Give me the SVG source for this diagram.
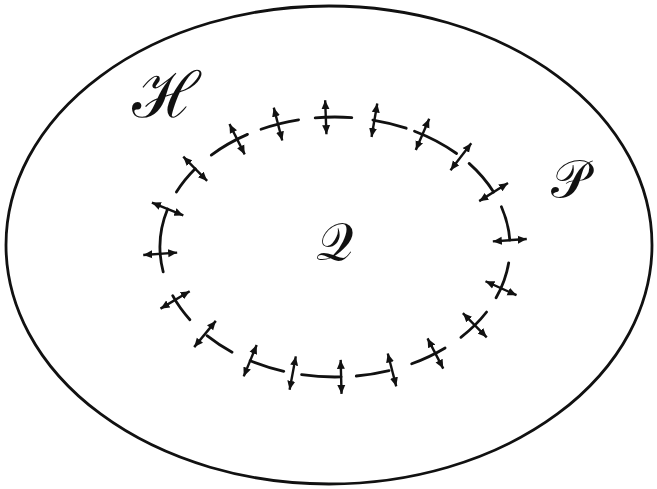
<svg xmlns="http://www.w3.org/2000/svg" xmlns:xlink="http://www.w3.org/1999/xlink" width="657" height="489" viewBox="0 0 657 489">
<style>
.ln{fill:none;stroke:#111;stroke-width:2.8;stroke-linecap:round}
.ar{stroke:#111;stroke-width:2.4;marker-start:url(#ah);marker-end:url(#ah)}
.lbl{font-family:"DejaVu Serif","Noto Sans",serif;fill:#111;text-anchor:middle}
</style>
<defs>
<marker id="ah" markerUnits="userSpaceOnUse" markerWidth="10" markerHeight="9" refX="9" refY="4.5" orient="auto-start-reverse">
<path d="M0,0.5 L9,4.5 L0,8.5 z" fill="#111"/>
</marker>
<line id="arr" class="ar" x1="-17" y1="0" x2="17" y2="0"/>
</defs>
<rect width="657" height="489" fill="#fff"/>
<g id="outer">
<ellipse class="ln" cx="329" cy="245" rx="323" ry="239"/>
</g>
<g id="dashes">
<path class="ln" d="M501.4,206.8 A175,130 0 0 1 509.8,240.2"/>
<path class="ln" d="M508.7,262.8 A175,130 0 0 1 496.1,297.8"/>
<path class="ln" d="M486.6,312.0 A175,130 0 0 1 460.9,337.3"/>
<path class="ln" d="M445.1,348.0 A175,130 0 0 1 411.7,363.8"/>
<path class="ln" d="M389.1,370.6 A175,130 0 0 1 356.3,376.0"/>
<path class="ln" d="M341.1,376.9 A175,130 0 0 1 301.6,374.6"/>
<path class="ln" d="M283.8,371.3 A175,130 0 0 1 250.2,360.7"/>
<path class="ln" d="M232.1,352.2 A175,130 0 0 1 207.0,335.7"/>
<path class="ln" d="M189.9,319.7 A175,130 0 0 1 172.7,295.7"/>
<path class="ln" d="M163.2,271.8 A175,130 0 0 1 167.6,209.0"/>
<path class="ln" d="M176.4,192.1 A175,130 0 0 1 195.2,168.8"/>
<path class="ln" d="M211.3,155.1 A175,130 0 0 1 247.5,134.4"/>
<path class="ln" d="M261.0,129.2 A175,130 0 0 1 298.6,119.8"/>
<path class="ln" d="M315.2,117.8 A175,130 0 0 1 351.8,117.6"/>
<path class="ln" d="M372.9,120.1 A175,130 0 0 1 406.2,128.2"/>
<path class="ln" d="M414.5,131.2 A175,130 0 0 1 456.6,153.5"/>
<path class="ln" d="M469.1,163.4 A175,130 0 0 1 493.6,192.1"/>
</g>
<g id="arrows">
<use xlink:href="#arr" transform="translate(160.2,253.8) rotate(176)"/>
<use xlink:href="#arr" transform="translate(167.6,209.0) rotate(202.4)"/>
<use xlink:href="#arr" transform="translate(195.2,168.8) rotate(225.4)"/>
<use xlink:href="#arr" transform="translate(237.1,139.2) rotate(243.4)"/>
<use xlink:href="#arr" transform="translate(278.0,124.1) rotate(255.6)"/>
<use xlink:href="#arr" transform="translate(325.8,117.2) rotate(267.8)"/>
<use xlink:href="#arr" transform="translate(374.4,120.3) rotate(279.7)"/>
<use xlink:href="#arr" transform="translate(422.5,134.4) rotate(293.2)"/>
<use xlink:href="#arr" transform="translate(460.9,156.7) rotate(307.6)"/>
<use xlink:href="#arr" transform="translate(493.6,192.1) rotate(-32.1)"/>
<use xlink:href="#arr" transform="translate(509.8,240.2) rotate(-4)"/>
<use xlink:href="#arr" transform="translate(501.0,288.2) rotate(24.2)"/>
<use xlink:href="#arr" transform="translate(474.8,325.2) rotate(45.4)"/>
<use xlink:href="#arr" transform="translate(435.4,353.5) rotate(62.5)"/>
<use xlink:href="#arr" transform="translate(392.0,369.9) rotate(75.6)"/>
<use xlink:href="#arr" transform="translate(341.1,376.9) rotate(88.5)"/>
<use xlink:href="#arr" transform="translate(292.7,373.1) rotate(100.5)"/>
<use xlink:href="#arr" transform="translate(250.2,360.7) rotate(112.4)"/>
<use xlink:href="#arr" transform="translate(205.0,334.0) rotate(129.5)"/>
<use xlink:href="#arr" transform="translate(175.1,299.9) rotate(149.1)"/>
</g>
<g id="labels">
<text id="H" class="lbl" x="166" y="117" font-size="64">ℋ</text>
<text id="P" class="lbl" x="569" y="197" font-size="52">𝒫</text>
<text id="Q" class="lbl" x="334" y="260" font-size="52">𝒬</text>
</g>
</svg>
